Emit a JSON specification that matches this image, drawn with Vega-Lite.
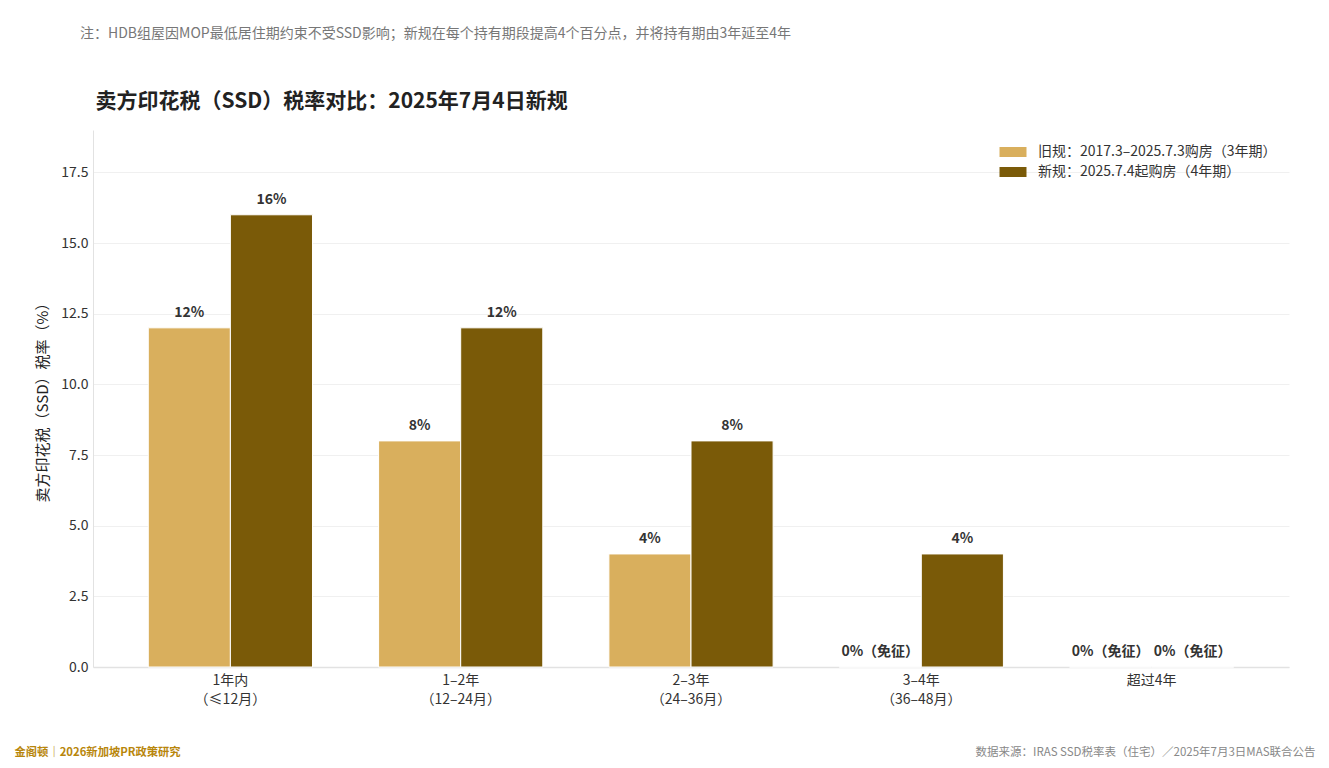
{
  "$schema": "https://vega.github.io/schema/vega-lite/v6.json",
  "autosize": "none",
  "width": 1196,
  "height": 537,
  "padding": {"left": 93, "top": 130, "right": 40, "bottom": 101},
  "background": "white",
  "title": {
    "text": "注：HDB组屋因MOP最低居住期约束不受SSD影响；新规在每个持有期段提高4个百分点，并将持有期由3年延至4年",
    "anchor": "start",
    "frame": "group",
    "dx": -13,
    "offset": 49,
    "fontSize": 14,
    "fontWeight": "normal",
    "color": "#777777",
    "font": "Noto Sans CJK SC"
  },
  "data": {
    "values": [
      {"cat": "1年内|（≤12月）", "scheme": "旧规：2017.3–2025.7.3购房（3年期）", "rate": 12, "label": "12%"},
      {"cat": "1年内|（≤12月）", "scheme": "新规：2025.7.4起购房（4年期）", "rate": 16, "label": "16%"},
      {"cat": "1–2年|（12–24月）", "scheme": "旧规：2017.3–2025.7.3购房（3年期）", "rate": 8, "label": "8%"},
      {"cat": "1–2年|（12–24月）", "scheme": "新规：2025.7.4起购房（4年期）", "rate": 12, "label": "12%"},
      {"cat": "2–3年|（24–36月）", "scheme": "旧规：2017.3–2025.7.3购房（3年期）", "rate": 4, "label": "4%"},
      {"cat": "2–3年|（24–36月）", "scheme": "新规：2025.7.4起购房（4年期）", "rate": 8, "label": "8%"},
      {"cat": "3–4年|（36–48月）", "scheme": "旧规：2017.3–2025.7.3购房（3年期）", "rate": 0, "label": "0%（免征）"},
      {"cat": "3–4年|（36–48月）", "scheme": "新规：2025.7.4起购房（4年期）", "rate": 4, "label": "4%"},
      {"cat": "超过4年", "scheme": "旧规：2017.3–2025.7.3购房（3年期）", "rate": 0, "label": "0%（免征）"},
      {"cat": "超过4年", "scheme": "新规：2025.7.4起购房（4年期）", "rate": 0, "label": "0%（免征）"}
    ]
  },
  "encoding": {
    "x": {
      "field": "cat",
      "type": "nominal",
      "sort": null,
      "scale": {"paddingInner": 0.287, "paddingOuter": 0.24}
    },
    "xOffset": {
      "field": "scheme",
      "type": "nominal",
      "sort": ["旧规：2017.3–2025.7.3购房（3年期）", "新规：2025.7.4起购房（4年期）"]
    },
    "y": {
      "field": "rate",
      "type": "quantitative",
      "scale": {"domain": [0, 19], "nice": false}
    }
  },
  "layer": [
    {
      "mark": {"type": "bar", "stroke": "white", "strokeWidth": 1},
      "encoding": {
        "x": {
          "field": "cat",
          "type": "nominal",
          "sort": null,
          "axis": {
            "orient": "bottom",
            "labelAngle": 0,
            "labelExpr": "split(datum.label, '|')",
            "labelFontSize": 14,
            "labelColor": "#333333",
            "labelLineHeight": 19,
            "labelPadding": 6,
            "ticks": false,
            "domainColor": "#e2e2e2",
            "domainWidth": 1.5,
            "title": "金阁顿｜2026新加坡PR政策研究",
            "titleX": -79,
            "titleY": 88,
            "titleAlign": "left",
            "titleBaseline": "alphabetic",
            "titleFontSize": 11.3,
            "titleFontWeight": "bold",
            "titleColor": "#B8860B"
          }
        },
        "y": {
          "field": "rate",
          "type": "quantitative",
          "axis": {
            "orient": "left",
            "values": [0, 2.5, 5, 7.5, 10, 12.5, 15, 17.5],
            "format": ".1f",
            "labelFontSize": 14,
            "labelColor": "#333333",
            "labelPadding": 5,
            "ticks": false,
            "domainColor": "#e2e2e2",
            "gridColor": "#f0f0f0",
            "title": "卖方印花税（SSD）税率（%）",
            "titleFontSize": 15,
            "titleFontWeight": "normal",
            "titleColor": "#222222",
            "titlePadding": 10
          }
        },
        "color": {
          "field": "scheme",
          "type": "nominal",
          "sort": ["旧规：2017.3–2025.7.3购房（3年期）", "新规：2025.7.4起购房（4年期）"],
          "scale": {
            "domain": ["旧规：2017.3–2025.7.3购房（3年期）", "新规：2025.7.4起购房（4年期）"],
            "range": ["#D9AF5D", "#7A5A08"]
          },
          "legend": {
            "orient": "top-right",
            "offset": 12,
            "title": null,
            "symbolType": "M-1.35,-0.5L1.35,-0.5L1.35,0.5L-1.35,0.5Z",
            "symbolSize": 400,
            "symbolStrokeWidth": 0,
            "labelFontSize": 14,
            "labelColor": "#333333",
            "labelOffset": 15,
            "rowPadding": 3,
            "labelLimit": 400
          }
        }
      }
    },
    {
      "mark": {
        "type": "text",
        "baseline": "bottom",
        "dy": -8,
        "fontSize": 14,
        "fontWeight": "bold",
        "color": "#333333"
      },
      "encoding": {
        "x": {
          "field": "cat",
          "type": "nominal",
          "sort": null,
          "axis": {
            "orient": "top",
            "labels": false,
            "ticks": false,
            "domain": false,
            "grid": false,
            "title": "卖方印花税（SSD）税率对比：2025年7月4日新规",
            "titleX": 2,
            "titleY": -23,
            "titleAlign": "left",
            "titleBaseline": "alphabetic",
            "titleFontSize": 21,
            "titleFontWeight": "bold",
            "titleColor": "#222222"
          }
        },
        "y": {
          "field": "rate",
          "type": "quantitative",
          "axis": {
            "orient": "right",
            "labels": false,
            "ticks": false,
            "domain": false,
            "grid": false,
            "title": "数据来源：IRAS SSD税率表（住宅）／2025年7月3日MAS联合公告",
            "titleAngle": 0,
            "titleX": 26,
            "titleY": 625,
            "titleAlign": "right",
            "titleBaseline": "alphabetic",
            "titleFontSize": 11.5,
            "titleFontWeight": "normal",
            "titleColor": "#888888"
          }
        },
        "text": {"field": "label"}
      }
    }
  ],
  "resolve": {"axis": {"x": "independent", "y": "independent"}},
  "config": {
    "font": "Noto Sans CJK SC",
    "view": {"stroke": null}
  }
}
